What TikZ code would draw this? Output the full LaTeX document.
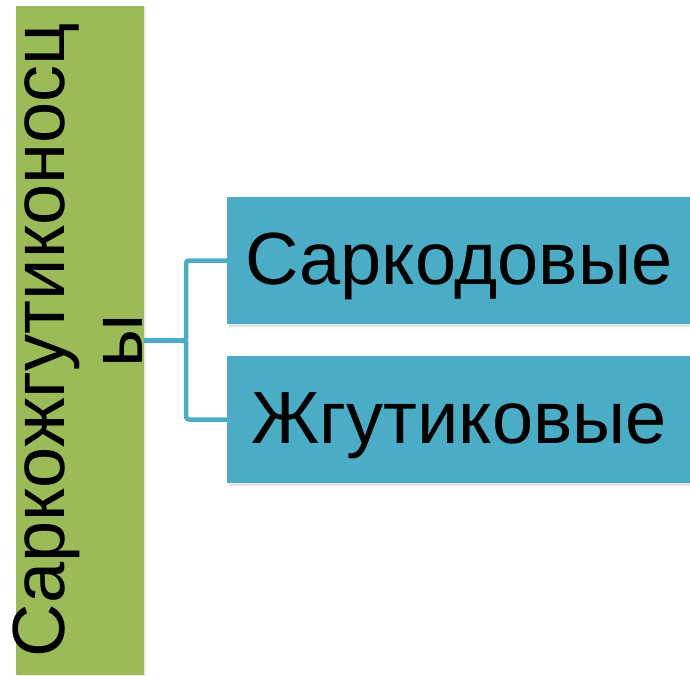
\documentclass[tikz,border=0pt]{standalone}
\usepackage{fontspec}
\setmainfont{Liberation Sans}
\usepackage{tikz}
\usetikzlibrary{shadows,calc}
\definecolor{olivegreen}{HTML}{9BBB59}
\definecolor{aqua}{HTML}{4BACC6}

\begin{document}
\begin{tikzpicture}[x=1pt,y=-1pt,
    greenbar/.style={fill=olivegreen,draw=none,inner sep=0pt,minimum width=128pt,minimum height=669pt,
      drop shadow={shadow xshift=2pt,shadow yshift=-1pt,opacity=0.18}},
    bluebox/.style={fill=aqua,draw=none,inner sep=0pt,minimum width=464pt,minimum height=127pt,
      text height=53pt,text depth=6pt,
      font=\fontsize{74}{80}\selectfont,drop shadow={shadow xshift=2pt,shadow yshift=-3pt,opacity=0.22}},
    conn/.style={draw=aqua,line width=4.5pt,rounded corners=3pt}]
  \useasboundingbox (0,0) rectangle (690,676);
  \node[greenbar] (sarkozh) at (80,340.5) {};
  \node[rotate=90,anchor=south,inner sep=0pt,align=center,font=\fontsize{74}{78}\selectfont]
    (sarkozhtext) at (143,340.5) {Саркожгутиконосц\\ы};
  \node[bluebox] (sarkod) at (459,260.5) {Саркодовые};
  \node[bluebox] (zhgut) at (459,419.5) {Жгутиковые};
  \coordinate (fork) at (186,340.5);
  \draw[conn] (sarkozh.east) -- (fork);
  \draw[conn] (fork) |- (sarkod.west);
  \draw[conn] (fork) |- (zhgut.west);
\end{tikzpicture}
\end{document}
